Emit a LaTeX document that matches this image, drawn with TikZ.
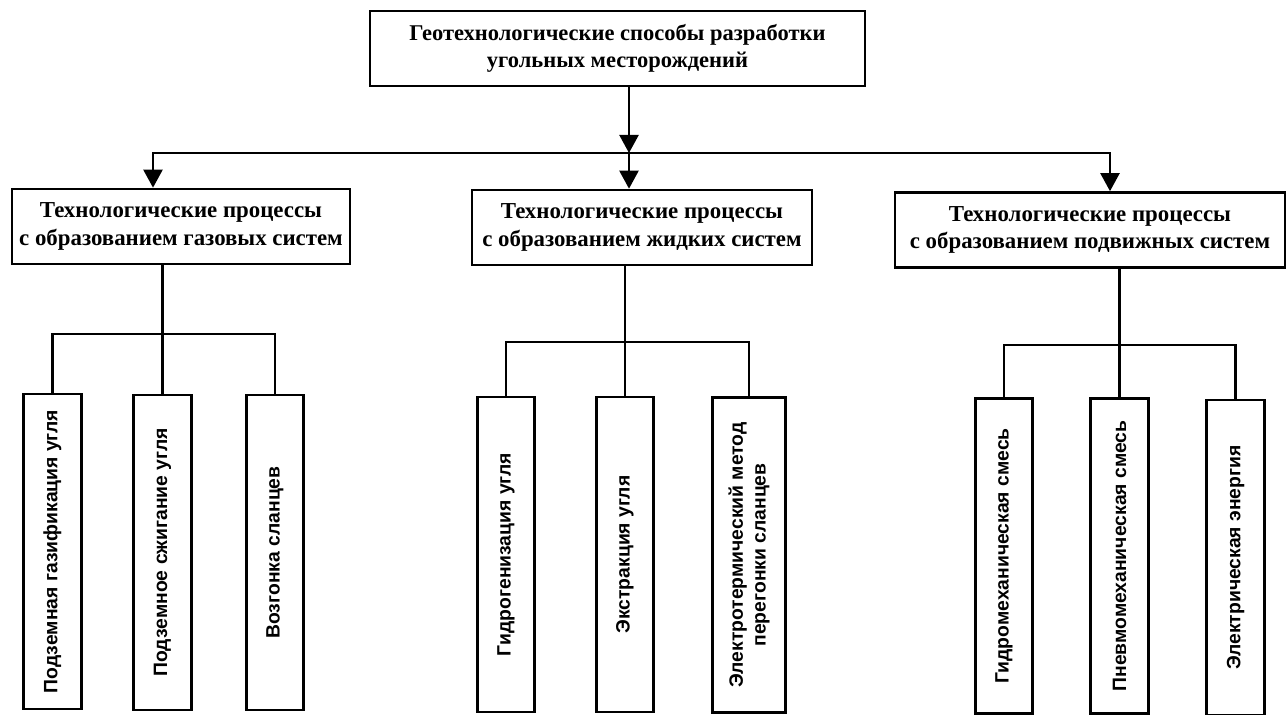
\documentclass[tikz,border=0pt]{standalone}
\usepackage{fontspec}
\setmainfont{Liberation Serif}
\setsansfont{Liberation Sans}
\usepackage{tikz}
\usetikzlibrary{arrows.meta, positioning, calc}

\begin{document}
\begin{tikzpicture}[
    topbox/.style={draw, line width=1.5pt, minimum width=9.9cm, minimum height=1.5cm, align=center, font=\fontsize{12.8}{15}\selectfont\bfseries},
    procbox/.style={draw, line width=1.5pt, minimum height=1.5cm, align=center, font=\fontsize{13}{15.5}\selectfont\bfseries},
    methodbox/.style={draw, line width=1.5pt, rotate=90, minimum width=6.3cm, minimum height=1.15cm, align=center, font=\fontsize{11}{13}\selectfont\sffamily\bfseries},
    arrow/.style={-{Triangle[length=0.36cm, width=0.38cm]}, line width=1.3pt},
    link/.style={line width=1.2pt}
]
    \useasboundingbox (0,0) rectangle (25.74,-14.3);

    % Top
    \node[topbox] (top) at (12.35, -0.97) {Геотехнологические способы разработки\\угольных месторождений};

    % Processes
    \node[procbox, minimum width=6.76cm] (gas) at (3.62, -4.53) {Технологические процессы\\с образованием газовых систем};
    \node[procbox, minimum width=6.8cm] (liq) at (12.84, -4.55) {Технологические процессы\\с образованием жидких систем};
    \node[procbox, minimum width=7.8cm] (mob) at (21.8, -4.6) {Технологические процессы\\с образованием подвижных систем};

    % Methods
    \node[methodbox] (m1) at (1.05, -11.03) {Подземная газификация угля};
    \node[methodbox] (m2) at (3.25, -11.05) {Подземное сжигание угля};
    \node[methodbox] (m3) at (5.5, -11.05) {Возгонка сланцев};

    \node[methodbox] (m4) at (10.12, -11.09) {Гидрогенизация угля};
    \node[methodbox] (m5) at (12.5, -11.09) {Экстракция угля};
    \node[methodbox, minimum height=1.45cm] (m6) at (14.98, -11.1) {Электротермический метод\\перегонки сланцев};

    \node[methodbox] (m7) at (20.08, -11.12) {Гидромеханическая смесь};
    \node[methodbox] (m8) at (22.39, -11.12) {Пневмомеханическая смесь};
    \node[methodbox] (m9) at (24.71, -11.15) {Электрическая энергия};

    % Top level arrows
    \coordinate (bus) at (12.58, -3.06);
    \draw[arrow] ([xshift=0.23cm]top.south) -- (bus);
    \draw[arrow] (bus) -- (bus |- liq.north);
    \draw[arrow] (bus) -| ([xshift=-0.56cm]gas.north);
    \draw[arrow] (bus) -| ([xshift=0.4cm]mob.north);

    % Forks
    \coordinate (gasfork) at ($(m2.east)+(0,1.2)$);
    \coordinate (liqfork) at ($(m5.east)+(0,1.08)$);
    \coordinate (mobfork) at ($(m8.east)+(0,1.05)$);

    \draw[link] (gas.south -| m2.east) -- (m2.east);
    \draw[link] (m1.east) |- (gasfork) -| (m3.east);

    \draw[link] (liq.south -| m5.east) -- (m5.east);
    \draw[link] (m4.east) |- (liqfork) -| (m6.east);

    \draw[link] (mob.south -| m8.east) -- (m8.east);
    \draw[link] (m7.east) |- (mobfork) -| (m9.east);

\end{tikzpicture}
\end{document}
